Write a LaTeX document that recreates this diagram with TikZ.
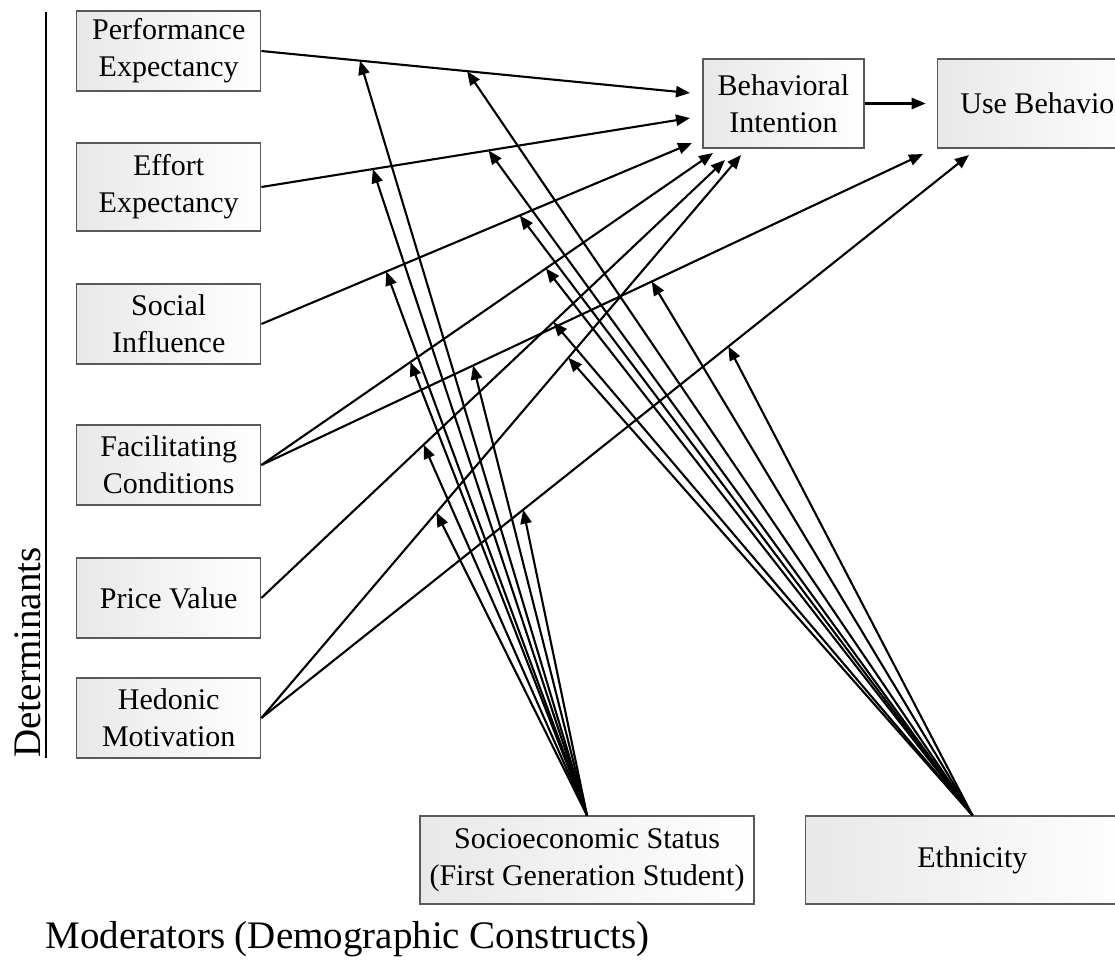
\documentclass[tikz,border=0pt]{standalone}
\usepackage{fontspec}
\setmainfont{Liberation Serif}
\usetikzlibrary{arrows.meta, positioning}

\begin{document}
\begin{tikzpicture}[x=0.5pt, y=-0.5pt,
    box/.style={draw=gray!70!black, line width=0.7pt, left color=gray!18, right color=white,
                align=center, inner sep=2pt, font=\fontsize{15}{18.5}\selectfont},
    detbox/.style={box, anchor=west, minimum width=92pt, minimum height=40pt},
    link/.style={-{Triangle[length=7pt, width=5.6pt]}, line width=1.05pt},
    bigtext/.style={inner sep=0pt, font=\fontsize{19.5}{23}\selectfont}]

    \useasboundingbox (0,0) rectangle (1115,960);
    \clip (0,0) rectangle (1115,960);

    % determinants
    \node[detbox] (pe) at (76,51) {Performance\\Expectancy};
    \node[detbox, minimum height=44pt] (ee) at (76,187) {Effort\\Expectancy};
    \node[detbox] (si) at (76,324) {Social\\Influence};
    \node[detbox] (fc) at (76,465) {Facilitating\\Conditions};
    \node[detbox] (pv) at (76,598) {Price Value};
    \node[detbox] (hm) at (76,718) {Hedonic\\Motivation};

    % outcomes
    \node[box, minimum width=80.5pt, minimum height=44.5pt] (bi) at (783.5,103.5) {Behavioral\\Intention};
    \node[box, minimum width=105pt, minimum height=44.5pt] (ub) [right=36pt of bi] {Use Behavior};

    % moderators
    \node[box, minimum width=167pt, minimum height=44pt] (ses) at (587,860) {Socioeconomic Status\\(First Generation Student)};
    \node[box, minimum width=167pt, minimum height=44pt] (eth) [right=25pt of ses] {Ethnicity};

    \draw[line width=1.3pt] (46,12) -- (46,758);
    \node[bigtext, rotate=90, anchor=base west] (det) at (40,758) {Determinants};
    \node[bigtext, anchor=base west] (mod) at (45,948) {Moderators (Demographic Constructs)};

    % arrow ends near the outcome boxes
    \coordinate (bi-pe) at (690,93);
    \coordinate (bi-ee) at (690,118);
    \coordinate (bi-si) at (692,143);
    \coordinate (bi-fc) at (713,153);
    \coordinate (bi-pv) at (725,160);
    \coordinate (bi-hm) at (741,155);
    \coordinate (ub-fc) at (923,154);
    \coordinate (ub-hm) at (969,155);

    \draw[link] (pe.east) -- coordinate[pos=.23] (pe-ses) coordinate[pos=.48] (pe-eth) (bi-pe);
    \draw[link] (ee.east) -- coordinate[pos=.26] (ee-ses) coordinate[pos=.53] (ee-eth) (bi-ee);
    \draw[link] (si.east) -- coordinate[pos=.29] (si-ses) coordinate[pos=.60] (si-eth) (bi-si);
    \draw[link] (fc.east) -- coordinate[pos=.33] (fcbi-ses) coordinate[pos=.63] (fcbi-eth) (bi-fc);
    \draw[link] (pv.east) -- coordinate[pos=.35] (pv-ses) coordinate[pos=.63] (pv-eth) (bi-pv);
    \draw[link] (hm.east) -- coordinate[pos=.365] (hmbi-ses) coordinate[pos=.64] (hmbi-eth) (bi-hm);
    \draw[link] (fc.east) -- coordinate[pos=.32] (fcub-ses) coordinate[pos=.59] (fcub-eth) (ub-fc);
    \draw[link] (hm.east) -- coordinate[pos=.37] (hmub-ses) coordinate[pos=.66] (hmub-eth) (ub-hm);
    \draw[link] (bi.east) -- ([xshift=-5.5pt]ub.west);

    % moderating effects
    \path[link]
    (ses.north) edge (pe-ses)
                edge (ee-ses)
                edge (si-ses)
                edge (fcbi-ses)
                edge (pv-ses)
                edge (hmbi-ses)
                edge (fcub-ses)
                edge (hmub-ses)
    (eth.north) edge (pe-eth)
                edge (ee-eth)
                edge (si-eth)
                edge (fcbi-eth)
                edge (pv-eth)
                edge (hmbi-eth)
                edge (fcub-eth)
                edge (hmub-eth);

\end{tikzpicture}
\end{document}
